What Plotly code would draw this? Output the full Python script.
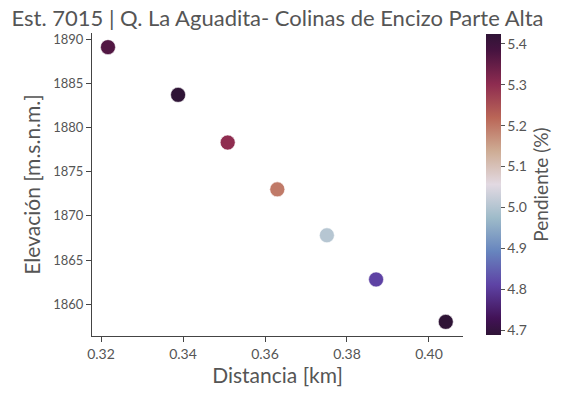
import plotly.graph_objects as go

distancia = [0.3217, 0.3388, 0.3509, 0.3630, 0.3751, 0.3871, 0.4041]
elevacion = [1889.1, 1883.7, 1878.3, 1873.0, 1867.8, 1862.8, 1858.0]
pendiente = [5.37, 5.424, 5.30, 5.196, 5.003, 4.81, 4.688]

x_ticks = [0.32, 0.34, 0.36, 0.38, 0.40]
y_ticks = [1860, 1865, 1870, 1875, 1880, 1885, 1890]
cb_ticks = [4.7, 4.8, 4.9, 5.0, 5.1, 5.2, 5.3, 5.4]

twilight_shifted = [
    [0.0, "#2f1436"], [0.056, "#421257"], [0.167, "#5e43a5"], [0.278, "#6785be"],
    [0.389, "#9ebbc9"], [0.5, "#e2d9e2"], [0.611, "#ceac94"], [0.722, "#ba6657"],
    [0.833, "#8e2c50"], [0.944, "#471340"], [1.0, "#2f1436"],
]

FONT = "Lato"
GRAY = "#555555"

fig = go.Figure(go.Scatter(
    x=distancia, y=elevacion, mode="markers",
    marker=dict(
        size=15, color=pendiente, colorscale=twilight_shifted,
        cmin=min(pendiente), cmax=max(pendiente),
        line=dict(color="white", width=0.6),
        colorbar=dict(
            title=dict(text="Pendiente (%)", side="right", font=dict(size=19, color=GRAY, family=FONT)),
            thickness=15, len=0.993, y=0.5, yanchor="middle", x=1.062, xanchor="left",
            xpad=0, ypad=0,
            outlinewidth=0, ticks="outside", ticklen=4, tickcolor=GRAY,
            tickvals=cb_ticks, ticktext=[f"{v:.1f}" for v in cb_ticks],
            tickfont=dict(size=14, color=GRAY, family=FONT),
        ),
    ),
    showlegend=False,
))

fig.update_layout(
    width=567, height=399,
    margin=dict(l=92, r=104, t=33, b=63, autoexpand=False),
    paper_bgcolor="white", plot_bgcolor="white",
    font=dict(family=FONT, color=GRAY),
    title=dict(text="Est. 7015 | Q. La Aguadita- Colinas de Encizo Parte Alta",
               x=0.5, xref="paper", xanchor="center", y=0.955, yanchor="middle",
               font=dict(size=22, color=GRAY, family=FONT)),
)
fig.update_xaxes(
    range=[0.3178, 0.4083], tickvals=x_ticks, ticktext=[f"{v:.2f}" for v in x_ticks],
    showgrid=False, zeroline=False, showline=True, linecolor="#444", linewidth=1,
    ticks="outside", ticklen=5, tickcolor="#444", automargin=False,
    tickfont=dict(size=14, color=GRAY),
    title=dict(text="Distancia [km]", font=dict(size=21, color=GRAY), standoff=4),
)
fig.update_yaxes(
    range=[1856.4, 1890.7], tickvals=y_ticks,
    showgrid=False, zeroline=False, showline=True, linecolor="#444", linewidth=1,
    ticks="outside", ticklen=5, tickcolor="#444", automargin=False,
    tickfont=dict(size=13, color=GRAY),
    title=dict(text="Elevación [m.s.n.m.]", font=dict(size=21, color=GRAY), standoff=6),
)

fig.write_html("out.html", config={"displayModeBar": False},
               post_script="document.body.style.margin='0';document.body.style.overflow='hidden';")
